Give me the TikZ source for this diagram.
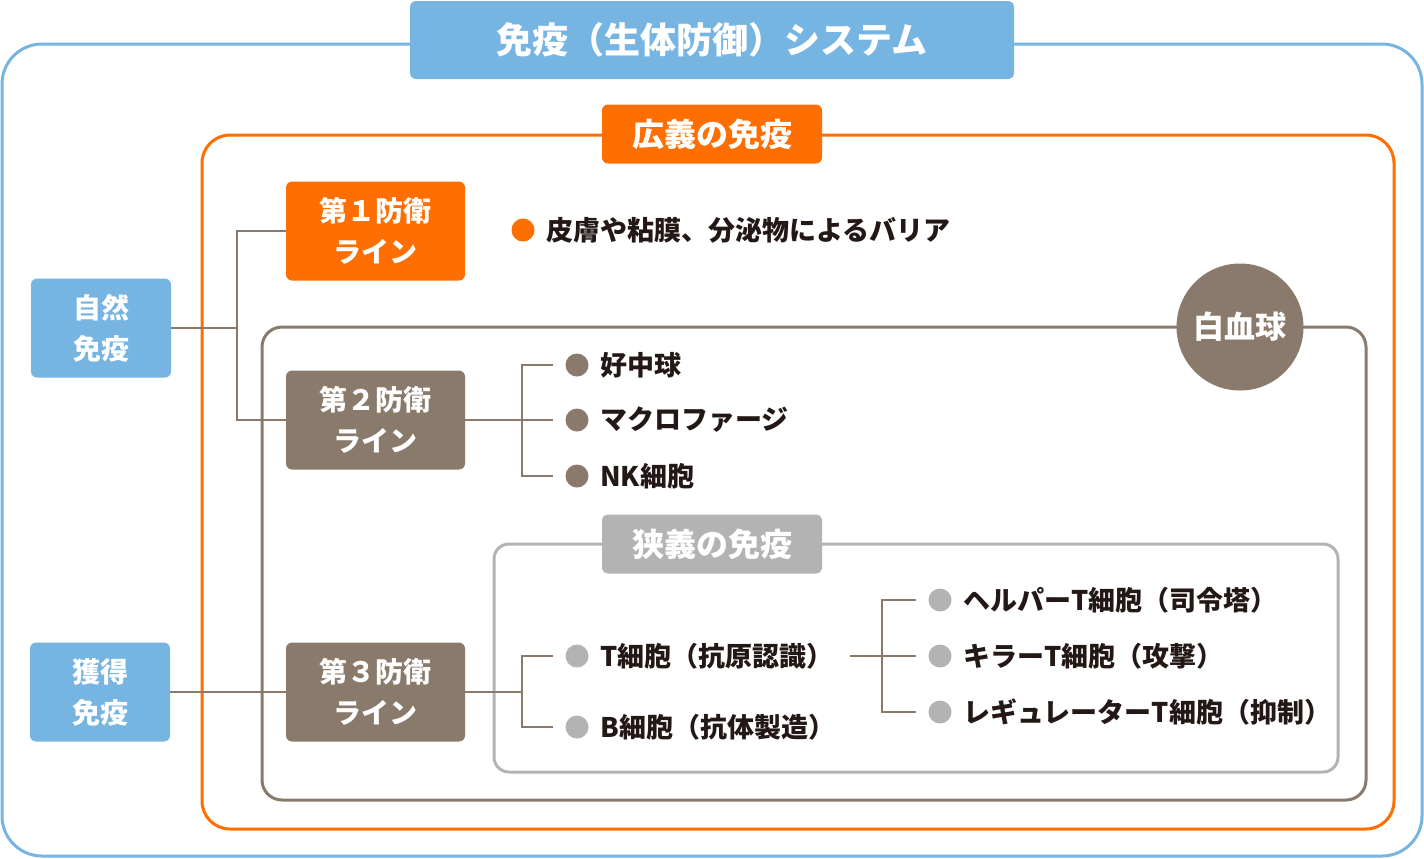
\documentclass[tikz,border=0pt]{standalone}
\usepackage{fontspec}
\setmainfont{Noto Sans CJK JP}
\usepackage{tikz}
\usetikzlibrary{positioning,calc}
\definecolor{skyblue}{RGB}{118,180,226}
\definecolor{vivorange}{RGB}{255,110,0}
\definecolor{cellbrown}{RGB}{138,122,107}
\definecolor{softgray}{RGB}{179,179,179}
\definecolor{inkblack}{RGB}{35,24,21}

\begin{document}
\begin{tikzpicture}[
    x=0.5pt, y=-0.5pt,
    framebox/.style={line width=1.5pt, rounded corners=#1},
    headbox/.style={rounded corners=3pt, text=white, font=\bfseries\fontsize{16}{20}\selectfont, minimum width=110pt, minimum height=29.5pt, inner sep=0pt},
    defbox/.style={rounded corners=3pt, text=white, font=\bfseries\fontsize{14}{20.5}\selectfont, align=center, minimum width=89.5pt, minimum height=49.5pt, inner sep=0pt},
    kindbox/.style={defbox, fill=skyblue, minimum width=70pt},
    bullet/.style={circle, inner sep=0pt, minimum size=11.5pt},
    itemtext/.style={anchor=west, inner sep=0pt, text=inkblack, font=\bfseries\fontsize{13.5}{16}\selectfont},
    conn/.style={draw=cellbrown, line width=1pt}
]
    \useasboundingbox (0,0) rectangle (1424,858);

    \draw[framebox=20pt, skyblue] (2,44) rectangle (1422,856);
    \draw[framebox=14pt, vivorange] (202,135) rectangle (1394,829);
    \draw[framebox=10pt, cellbrown] (262,327) rectangle (1366,800);
    \draw[framebox=7.5pt, softgray] (494,544) rectangle (1338,772);

    \node[headbox, fill=skyblue, minimum width=302pt, minimum height=39pt, font=\bfseries\fontsize{18}{22}\selectfont] (system) at (712,40) {免疫（生体防御）システム};
    \node[headbox, fill=vivorange] (broad) at (712,134) {広義の免疫};
    \node[headbox, fill=softgray] (narrow) at (712,544) {狭義の免疫};
    \node[circle, fill=cellbrown, minimum size=63.5pt, inner sep=0pt, text=white, font=\bfseries\fontsize{15.5}{18}\selectfont] (wbc) at (1240,327) {白血球};

    \node[kindbox] (innate) at (101,328) {自然\\免疫};
    \node[kindbox] (acquired) at (100,692) {獲得\\免疫};
    \node[defbox, fill=vivorange] (first) at (375.5,231) {第１防衛\\ライン};
    \node[defbox, fill=cellbrown] (second) at (375.5,420) {第２防衛\\ライン};
    \node[defbox, fill=cellbrown] (third) at (375.5,692) {第３防衛\\ライン};

    \node[bullet, fill=vivorange] (dbar) at (523,230) {};
    \node[itemtext, right=5.5pt of dbar] (bar) {皮膚や粘膜、分泌物によるバリア};

    \node[bullet, fill=cellbrown] (dneu) at (577,365) {};
    \node[bullet, fill=cellbrown] (dmac) at (577,420) {};
    \node[bullet, fill=cellbrown] (dnk) at (577,476) {};
    \node[itemtext, right=5.5pt of dneu] (neu) {好中球};
    \node[itemtext, right=5.5pt of dmac] (mac) {マクロファージ};
    \node[itemtext, right=5.5pt of dnk] (nk) {NK細胞};

    \node[bullet, fill=softgray] (dtc) at (577,656) {};
    \node[bullet, fill=softgray] (dbc) at (577,727) {};
    \node[itemtext, right=5.5pt of dtc] (tc) {T細胞（抗原認識）};
    \node[itemtext, right=5.5pt of dbc] (bc) {B細胞（抗体製造）};

    \node[bullet, fill=softgray] (dhel) at (940,600) {};
    \node[bullet, fill=softgray] (dkil) at (940,656) {};
    \node[bullet, fill=softgray] (dreg) at (940,712) {};
    \node[itemtext, right=5.5pt of dhel] (hel) {ヘルパーT細胞（司令塔）};
    \node[itemtext, right=5.5pt of dkil] (kil) {キラーT細胞（攻撃）};
    \node[itemtext, right=5.5pt of dreg] (reg) {レギュレーターT細胞（抑制）};

    \coordinate (split1) at (237,328);
    \coordinate (split2) at (522,420);
    \coordinate (split3) at (522,692);
    \coordinate (split4) at (882,656);

    \draw[conn] (innate) -- (split1);
    \draw[conn] (first) -| (split1) |- (second);
    \draw[conn] (second) -- ([xshift=-6pt]dmac.west);
    \draw[conn] ([xshift=-6pt]dneu.west) -| (split2) |- ([xshift=-6pt]dnk.west);
    \draw[conn] (acquired) -- (third);
    \draw[conn] (third) -- (split3);
    \draw[conn] ([xshift=-6pt]dtc.west) -| (split3) |- ([xshift=-6pt]dbc.west);
    \draw[conn] ([xshift=8pt]tc.east) -- ([xshift=-6pt]dkil.west);
    \draw[conn] ([xshift=-6pt]dhel.west) -| (split4) |- ([xshift=-6pt]dreg.west);
\end{tikzpicture}
\end{document}
